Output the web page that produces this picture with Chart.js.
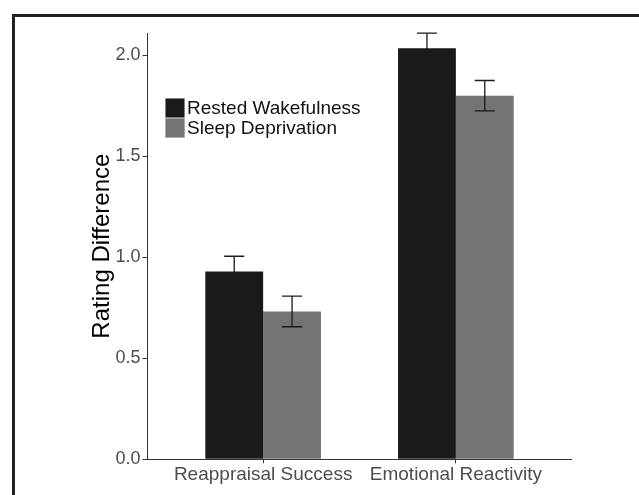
<!DOCTYPE html>
<html>
<head>
<meta charset="utf-8">
<script src="https://cdn.jsdelivr.net/npm/chart.js@4/dist/chart.umd.min.js"></script>
<style>
  body { margin: 0; background: #fff; }
  #wrap { width: 639px; height: 495px; }
</style>
</head>
<body>
<div id="wrap"><canvas id="myChart" width="639" height="495"></canvas></div>
<script>
// values
var categories = ['Reappraisal Success', 'Emotional Reactivity'];
var seriesNames = ['Rested Wakefulness', 'Sleep Deprivation'];
var rested = [0.93, 2.035];
var restedErr = [0.075, 0.074];
var deprived = [0.732, 1.80];
var deprivedErr = [0.076, 0.075];
var yTicks = [0, 0.5, 1.0, 1.5, 2.0];

var FONT = '"Liberation Sans", Arial, sans-serif';
var AXIS_COL = '#333333';

function points(vals) {
  return vals.map(function(v, i) { return { x: i + 1, y: v }; });
}

// outer frame of the figure
var framePlugin = {
  id: 'frame',
  beforeDraw: function(chart) {
    var ctx = chart.ctx;
    ctx.save();
    ctx.fillStyle = '#fff';
    ctx.fillRect(0, 0, chart.width, chart.height);
    ctx.fillStyle = '#231f20';
    ctx.fillRect(12, 14, chart.width, 3);
    ctx.fillRect(12, 14, 3, chart.height);
    ctx.restore();
  }
};

// error bars on top of each bar
var errorPlugin = {
  id: 'errbars',
  afterDatasetsDraw: function(chart) {
    var ctx = chart.ctx;
    var yScale = chart.scales.y;
    var errs = [restedErr, deprivedErr];
    ctx.save();
    ctx.strokeStyle = '#1a1a1a';
    ctx.lineWidth = 1.3;
    chart.data.datasets.forEach(function(ds, i) {
      var meta = chart.getDatasetMeta(i);
      meta.data.forEach(function(bar, j) {
        var v = ds.data[j].y;
        var hi = yScale.getPixelForValue(v + errs[i][j]);
        var lo = yScale.getPixelForValue(v - errs[i][j]);
        var x = bar.x;
        ctx.beginPath();
        ctx.moveTo(x, hi); ctx.lineTo(x, lo);
        ctx.moveTo(x - 10, hi); ctx.lineTo(x + 10, hi);
        ctx.moveTo(x - 10, lo); ctx.lineTo(x + 10, lo);
        ctx.stroke();
      });
    });
    ctx.restore();
  }
};

// legend inside the panel, stacked boxes
var legendPlugin = {
  id: 'boxLegend',
  afterDraw: function(chart) {
    var ctx = chart.ctx;
    ctx.save();
    ctx.font = '19px ' + FONT;
    ctx.textBaseline = 'middle';
    chart.data.datasets.forEach(function(ds, i) {
      var y = 98 + i * 20;
      ctx.fillStyle = ds.backgroundColor;
      ctx.fillRect(165, y, 20, 20);
      ctx.strokeStyle = '#cccccc';
      ctx.lineWidth = 0.6;
      ctx.strokeRect(165.3, y + 0.3, 19.4, 19.4);
      ctx.fillStyle = '#111';
      ctx.fillText(ds.label, 187, y + 10.5);
    });
    ctx.restore();
  }
};

var ctx = document.getElementById('myChart').getContext('2d');
var chart = new Chart(ctx, {
  type: 'bar',
  data: {
    datasets: [{
      label: seriesNames[0],
      backgroundColor: '#1a1a1a',
      data: points(rested)
    }, {
      label: seriesNames[1],
      backgroundColor: '#737373',
      data: points(deprived)
    }]
  },
  options: {
    responsive: false,
    animation: false,
    layout: { padding: { top: 33, right: 67.5, left: 0, bottom: 0 } },
    categoryPercentage: 0.6,
    barPercentage: 1.0,
    plugins: {
      legend: { display: false },
      tooltip: { enabled: false }
    },
    scales: {
      x: {
        type: 'linear',
        offset: false,
        min: 0.4,
        max: 2.6,
        afterBuildTicks: function(scale) {
          scale.ticks = categories.map(function(c, i) { return { value: i + 1 }; });
        },
        afterFit: function(scale) { scale.height = 35.7; },
        ticks: {
          color: '#4d4d4d',
          font: { family: FONT, size: 19 },
          padding: 0,
          maxRotation: 0,
          autoSkip: false,
          callback: function(v) { return categories[Math.round(v) - 1]; }
        },
        grid: { drawOnChartArea: false, drawTicks: true, tickLength: 4, color: AXIS_COL, offset: false },
        border: { display: true, color: AXIS_COL, width: 1 }
      },
      y: {
        min: 0,
        max: 2.11,
        afterBuildTicks: function(scale) {
          scale.ticks = yTicks.map(function(v) { return { value: v }; });
        },
        afterFit: function(scale) { scale.width = 147.5; },
        ticks: {
          color: '#4d4d4d',
          font: { family: FONT, size: 18 },
          padding: 2,
          callback: function(v) { return v.toFixed(1); }
        },
        grid: { drawOnChartArea: false, drawTicks: true, tickLength: 5, color: AXIS_COL },
        border: { display: true, color: AXIS_COL, width: 1 },
        title: {
          display: true,
          text: 'Rating Difference',
          color: '#000',
          font: { family: FONT, size: 24 },
          padding: { top: 88, bottom: 0 }
        }
      }
    }
  },
  plugins: [framePlugin, errorPlugin, legendPlugin]
});
</script>
</body>
</html>
